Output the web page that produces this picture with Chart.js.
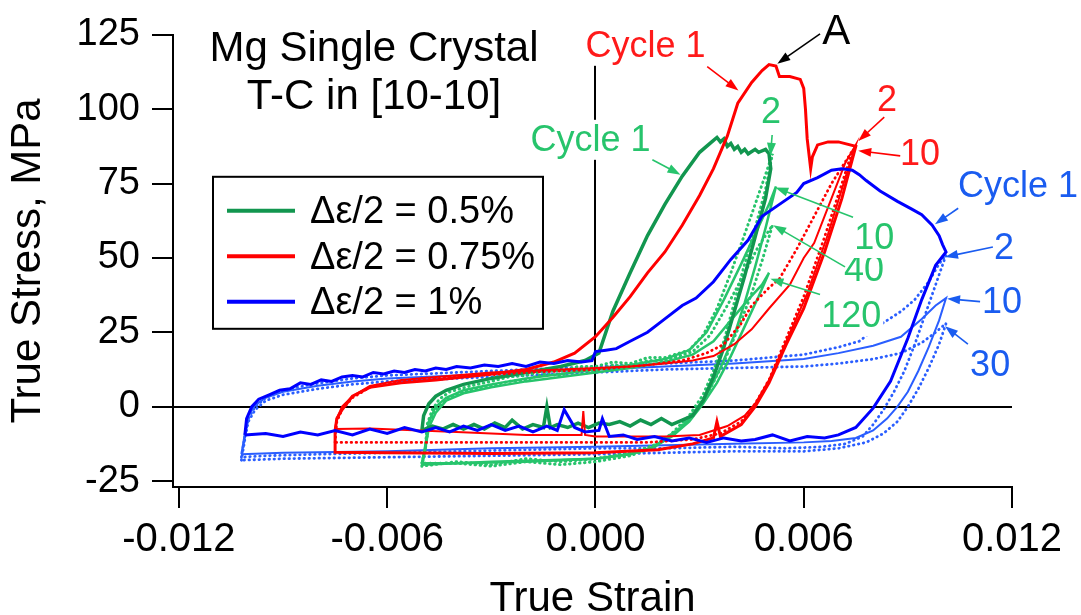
<!DOCTYPE html>
<html>
<head>
<meta charset="utf-8">
<script src="https://cdn.jsdelivr.net/npm/chart.js@4.4.1/dist/chart.umd.min.js"></script>
<style>
  html, body { margin: 0; padding: 0; background: #fff; }
  canvas { display: block; }
</style>
</head>
<body>
<canvas id="loops" width="1081" height="615"></canvas>
<script>
// axis ticks
const strainTicks = [-0.012, -0.006, 0, 0.006, 0.012];
const stressTicks = [-25, 0, 25, 50, 75, 100, 125];

// hysteresis loops, [true strain, true stress (MPa)]
// strain amplitude 0.75 %
const red1 = [
  [-0.0075, -8], [-0.00745, -4], [-0.0073, -1], [-0.007, 3.5], [-0.0065, 6.5], [-0.0056, 8], [-0.0046, 9],
  [-0.0038, 10], [-0.003, 11], [-0.002, 12.5], [-0.0012, 15], [-0.0006, 18], [0, 23.5], [0.0005, 30],
  [0.001, 37], [0.0015, 45], [0.002, 52], [0.0025, 61], [0.003, 71], [0.0034, 80], [0.0038, 91],
  [0.0041, 102], [0.0045, 109], [0.0048, 113], [0.005, 115], [0.0052, 114.5], [0.0053, 111], [0.0056, 111],
  [0.0059, 110], [0.006, 107], [0.00605, 100], [0.0061, 90], [0.0062, 80], [0.00625, 84], [0.0064, 88],
  [0.0067, 89], [0.007, 89], [0.0075, 87.5],
  [0.0071, 70], [0.0066, 52], [0.006, 33], [0.0055, 21], [0.005, 8], [0.0046, 0], [0.0042, -6],
  [0.0036, -10], [0.0035, -5], [0.0034, -10.5], [0.0028, -12.5], [0.0018, -14.5], [0, -15.5],
  [-0.003, -15.7], [-0.006, -15.5], [-0.0075, -15.3], [-0.0075, -8]
];
const red2 = [
  [-0.0075, -7.5], [-0.00745, -4], [-0.0073, 0], [-0.007, 3.5], [-0.0065, 7], [-0.0056, 9], [-0.0046, 10],
  [-0.003, 11.5], [-0.001, 12.5], [0.001, 13.5], [0.002, 14.5], [0.0028, 15.5], [0.0034, 17], [0.004, 21],
  [0.0045, 26], [0.005, 33], [0.0056, 41], [0.006, 50], [0.0063, 55], [0.0068, 70], [0.0072, 82], [0.0075, 88],
  [0.0072, 77], [0.0067, 58], [0.0061, 38], [0.0055, 22], [0.005, 9], [0.0046, 1], [0.0043, -3],
  [0.0038, -6.5], [0.003, -9.5], [0.002, -10], [0, -10], [-0.0003, -9.5], [-0.00035, -1.5], [-0.0004, -9.5],
  [-0.002, -9.5], [-0.004, -8.5], [-0.0065, -7.3], [-0.0075, -7.5]
];
const red10 = [
  [-0.0075, -12], [-0.00745, -5], [-0.0073, -1], [-0.007, 3], [-0.0065, 6.5], [-0.0056, 8.5], [-0.004, 10],
  [-0.002, 11.5], [0, 12.5], [0.0015, 14], [0.0025, 15.5], [0.0032, 18], [0.0037, 21], [0.0042, 28],
  [0.0045, 34], [0.005, 40], [0.0053, 43], [0.0058, 53], [0.0063, 64], [0.0068, 75], [0.0074, 86],
  [0.0071, 75], [0.0066, 57], [0.006, 37], [0.0055, 23], [0.005, 9], [0.0046, 1], [0.0042, -5],
  [0.0036, -9], [0.0028, -11], [0.0015, -12], [0, -12], [-0.004, -12], [-0.0075, -12]
];

// strain amplitude 0.5 %
const green1 = [
  [-0.005, -8], [-0.00495, -3], [-0.0048, 1], [-0.0046, 3.5], [-0.0043, 5.5], [-0.0038, 7.5], [-0.003, 9.5],
  [-0.002, 11.5], [-0.001, 13.5], [-0.0003, 15.5], [0.0001, 18], [0.0005, 32], [0.001, 45], [0.0015, 57.5],
  [0.002, 68], [0.0025, 77.5], [0.003, 85.5], [0.0033, 88.5], [0.0035, 90.5], [0.0036, 89], [0.0037, 90],
  [0.0038, 87.5], [0.0039, 88.5], [0.004, 86.5], [0.0041, 87.5], [0.0042, 85.5], [0.0043, 86.5], [0.0044, 85],
  [0.0046, 86.5], [0.0047, 85.5], [0.0049, 86.5], [0.005, 85],
  [0.00505, 80], [0.0049, 70], [0.0046, 57], [0.0043, 44], [0.004, 32], [0.0037, 20], [0.0034, 10],
  [0.0031, 2], [0.0028, -3], [0.0025, -4.5], [0.0022, -6], [0.0019, -4], [0.0016, -6], [0.0013, -4.5],
  [0.001, -6.5], [0.0007, -5], [0.0004, -6], [0.0001, -5.5], [-0.0002, -7], [-0.0005, -5.5], [-0.0008, -7],
  [-0.0011, -6], [-0.0013, -7], [-0.0014, 0], [-0.0015, -7], [-0.0018, -6], [-0.0021, -7.5], [-0.0024, -4.5],
  [-0.0026, -7], [-0.0029, -5.5], [-0.0032, -7.5], [-0.0035, -6], [-0.0038, -7.5], [-0.0041, -6],
  [-0.0044, -7.5], [-0.0047, -6.5], [-0.005, -8]
];
const green2 = [
  [-0.005, -19], [-0.0049, -14], [-0.00485, -6], [-0.0047, -1], [-0.0045, 2.5], [-0.0042, 5], [-0.0036, 7],
  [-0.003, 8.5], [-0.0025, 10], [-0.002, 10.5], [-0.0015, 12], [-0.001, 12], [-0.0005, 13.5], [0, 13.5],
  [0.0005, 15], [0.001, 14.5], [0.0015, 16.5], [0.002, 16.5], [0.0027, 19],
  [0.0031, 24], [0.0035, 33], [0.0039, 45], [0.0043, 58], [0.0046, 68], [0.0049, 78], [0.0051, 85],
  [0.0049, 73], [0.0046, 60], [0.0043, 48], [0.004, 35], [0.0037, 22], [0.0034, 12], [0.0031, 4],
  [0.0027, -3], [0.0022, -9], [0.0016, -14], [0.001, -16.5], [0, -18.5], [-0.001, -19.5], [-0.002, -18.5],
  [-0.003, -20], [-0.004, -19], [-0.005, -19]
];
const green10 = [
  [-0.005, -19], [-0.0049, -13], [-0.0048, -5], [-0.0046, 0], [-0.0043, 3], [-0.0038, 5.5], [-0.003, 7.5],
  [-0.002, 9.5], [-0.001, 11], [0, 12.5], [0.001, 14], [0.002, 16], [0.0027, 19], [0.0032, 25],
  [0.0037, 36], [0.0042, 48], [0.0046, 58], [0.005, 68], [0.0052, 74],
  [0.0049, 60], [0.0046, 47], [0.0043, 35], [0.004, 24], [0.0036, 13], [0.0032, 4], [0.0028, -3],
  [0.0023, -9], [0.0017, -13.5], [0.001, -16], [0, -17.5], [-0.002, -18.5], [-0.004, -19], [-0.005, -19]
];
const green40 = [
  [-0.005, -20], [-0.0049, -14], [-0.0048, -6], [-0.0046, -1], [-0.0043, 2.5], [-0.0038, 5], [-0.003, 7],
  [-0.0025, 8.5], [-0.002, 9], [-0.0015, 11], [-0.001, 10.5], [-0.0005, 12.5], [0, 12], [0.0005, 14],
  [0.001, 13.5], [0.0015, 15.5], [0.002, 15.5], [0.0028, 18.5], [0.0033, 24],
  [0.0038, 34], [0.0043, 45], [0.0047, 54], [0.0051, 61],
  [0.0048, 49], [0.0045, 38], [0.0041, 26], [0.0037, 15], [0.0033, 6], [0.0029, -1], [0.0024, -7.5],
  [0.0018, -12.5], [0.001, -15.5], [0, -17.5], [-0.001, -18.5], [-0.002, -17.5], [-0.003, -19.5],
  [-0.004, -18.5], [-0.005, -20]
];
const green120 = [
  [-0.005, -20], [-0.0049, -14], [-0.0048, -7], [-0.0046, -2], [-0.0043, 2], [-0.0038, 4.5], [-0.003, 6.5],
  [-0.002, 8.5], [-0.001, 10], [0, 11.5], [0.001, 13], [0.002, 15], [0.0028, 17.5], [0.0034, 22],
  [0.0039, 29], [0.0044, 36], [0.0048, 41], [0.005, 45],
  [0.0047, 37], [0.0043, 27], [0.0039, 17], [0.0035, 8], [0.0031, 1], [0.0027, -5], [0.0022, -10],
  [0.0016, -14], [0.001, -16], [0, -17.5], [-0.003, -18.5], [-0.005, -19.5]
];

// strain amplitude 1 %
const blue1 = [
  [-0.0101, -9.5], [-0.01005, -4], [-0.0099, 0], [-0.0097, 2.5], [-0.0094, 4], [-0.0091, 5.5], [-0.0088, 6],
  [-0.0085, 8], [-0.0082, 7.5], [-0.0079, 9], [-0.0076, 8.5], [-0.0073, 10], [-0.007, 10.5], [-0.0067, 10],
  [-0.0064, 11.5], [-0.0061, 11], [-0.0058, 12], [-0.0055, 11.5], [-0.0052, 12.5], [-0.0049, 12],
  [-0.0046, 13], [-0.0043, 12.5], [-0.004, 13.5], [-0.0036, 13], [-0.0032, 14], [-0.0028, 13.5],
  [-0.0024, 14.5], [-0.002, 13.5], [-0.0016, 15], [-0.0012, 14.5], [-0.0008, 15.5], [-0.0004, 15],
  [-0.0001, 15.5], [0, 18.5], [0.0003, 19], [0.0006, 19.5], [0.001, 22], [0.0015, 25], [0.002, 29.5],
  [0.0025, 34], [0.0029, 36.5], [0.0034, 42], [0.0039, 49.5], [0.0044, 56], [0.0048, 64], [0.0053, 68],
  [0.0058, 72], [0.006, 75], [0.0064, 77], [0.0068, 79.5], [0.0071, 80], [0.0074, 79.5], [0.0076, 78],
  [0.0078, 76], [0.0082, 72.5], [0.0087, 69], [0.0091, 66.5], [0.0094, 64.5], [0.0097, 61], [0.0099, 57.5],
  [0.01, 54.5], [0.0101, 52],
  [0.0098, 47.5], [0.0094, 36], [0.009, 23], [0.0085, 8.5], [0.008, -0.5], [0.0075, -7], [0.007, -9.5],
  [0.0066, -10.5], [0.0061, -10], [0.0056, -11.5], [0.0051, -9.5], [0.0046, -11], [0.0042, -11.5],
  [0.0037, -10.5], [0.0032, -12], [0.0027, -10.5], [0.0022, -11.5], [0.0017, -10], [0.0012, -11],
  [0.0008, -9.5], [0.0004, -10], [0.0002, -4], [0.0001, -8], [-0.0003, -8.5], [-0.0006, -7], [-0.0009, -1],
  [-0.0011, -8], [-0.0014, -6.5], [-0.0018, -8.5], [-0.0022, -6.5], [-0.0026, -8], [-0.003, -6],
  [-0.0034, -8], [-0.0038, -6.5], [-0.0042, -8.5], [-0.0046, -7], [-0.005, -8.5], [-0.0055, -7],
  [-0.006, -9], [-0.0065, -7.5], [-0.007, -9.5], [-0.0075, -8], [-0.008, -9.5], [-0.0085, -8.5],
  [-0.009, -10], [-0.0095, -9], [-0.0101, -9.5]
];
const blue2 = [
  [-0.0102, -17], [-0.0101, -10], [-0.01, -4], [-0.0098, 0], [-0.0095, 3], [-0.009, 5.5], [-0.0082, 7.5],
  [-0.007, 9.5], [-0.006, 10.5], [-0.005, 11], [-0.004, 11.5], [-0.003, 12], [-0.002, 12.5], [-0.001, 13],
  [0, 13.5], [0.001, 14], [0.002, 14.5], [0.003, 15], [0.004, 15.5], [0.005, 16.5], [0.006, 17.5], [0.007, 20],
  [0.0076, 22], [0.0082, 27.5], [0.0088, 32], [0.0092, 36], [0.0096, 42], [0.0099, 48], [0.0101, 51],
  [0.0098, 41], [0.0095, 31], [0.0092, 21], [0.0089, 12], [0.0086, 5], [0.0083, -1], [0.008, -6],
  [0.0077, -10], [0.0072, -12.5], [0.0065, -13.5], [0.0055, -14], [0.004, -13.5], [0.002, -14], [0, -14],
  [-0.002, -14.5], [-0.004, -15], [-0.006, -15.5], [-0.008, -16], [-0.0095, -16.5], [-0.0102, -17]
];
const blue10 = [
  [-0.0102, -16], [-0.0101, -9], [-0.01, -3], [-0.0098, 0.5], [-0.0095, 3], [-0.009, 5], [-0.008, 7],
  [-0.007, 8.5], [-0.006, 9.5], [-0.004, 10.5], [-0.002, 11.5], [0, 12.5], [0.002, 13.5], [0.004, 14.5],
  [0.006, 16], [0.007, 18], [0.008, 20.5], [0.0088, 23.5], [0.0094, 29.5], [0.0098, 34], [0.0101, 36.5],
  [0.0099, 29], [0.0096, 20], [0.0093, 12], [0.009, 5], [0.0087, 0], [0.0084, -4], [0.008, -8],
  [0.0075, -10.5], [0.0068, -11.5], [0.006, -12], [0.004, -12.5], [0.002, -13], [0, -13.5], [-0.003, -14],
  [-0.006, -15], [-0.009, -15.5], [-0.0102, -16]
];
const blue30 = [
  [-0.0102, -18], [-0.0101, -11], [-0.01, -5], [-0.0098, -1], [-0.0095, 2], [-0.009, 4], [-0.008, 6],
  [-0.007, 7.5], [-0.006, 8.5], [-0.004, 9.5], [-0.002, 10.5], [0, 11.5], [0.002, 12.5], [0.004, 13],
  [0.006, 13.5], [0.007, 14.5], [0.008, 16], [0.0088, 18], [0.0094, 21.5], [0.0098, 25], [0.0101, 28],
  [0.0099, 21], [0.0096, 13], [0.0093, 6], [0.009, 0], [0.0087, -5], [0.0083, -9], [0.0078, -12],
  [0.007, -14], [0.006, -15], [0.004, -15], [0.002, -15.5], [0, -16], [-0.003, -16.5], [-0.006, -17],
  [-0.009, -17.5], [-0.0102, -18]
];

const legendNames = ['Δε/2 = 0.5%', 'Δε/2 = 0.75%', 'Δε/2 = 1%'];
const titleLines = ['Mg Single Crystal', 'T-C in [10-10]'];

// cycle labels: text, strain, stress
const greenNotes = [['40', 0.00774, 46], ['Cycle 1', -0.00014, 89.7], ['2', 0.00506, 99], ['10', 0.00803, 56.7], ['120', 0.00737, 30.3]];
const redNotes = [['Cycle 1', 0.00144, 121.3], ['2', 0.0084, 103], ['10', 0.00935, 85]];
const blueNotes = [['Cycle 1', 0.01217, 74.3], ['2', 0.01177, 53.3], ['10', 0.01171, 35.3], ['30', 0.01137, 14]];
const blackNotes = [['A', 0.00694, 126]];

// pointer arrows: from strain, stress -> to strain, stress
const greenArrows = [[0.00164, 83, 0.00245, 78], [0.00509, 91.3, 0.00504, 84.3], [0.00742, 63.7, 0.00518, 73.7],
  [0.00719, 47, 0.00512, 61], [0.00647, 37.7, 0.00504, 43]];
const redArrows = [[0.00322, 114.3, 0.00412, 106.3], [0.00832, 97.3, 0.00757, 89.3], [0.00878, 84.3, 0.00757, 86]];
const blueArrows = [[0.01045, 66.7, 0.00978, 61.3], [0.01145, 53.7, 0.01007, 50.3], [0.01108, 35.3, 0.01013, 36.3],
  [0.01073, 21, 0.01007, 27]];
const blackArrows = [[0.00647, 125.3, 0.00524, 115.3]];

const FONT = '"Liberation Sans", Arial, Helvetica, sans-serif';
const GREEN_DARK = '#12964f';
const GREEN = '#27c46c';
const RED = '#ff0000';
const BLUE_DARK = '#0000ff';
const BLUE = '#2a5eff';

function loop(label, pts, color, width, dotted) {
  return {
    label: label,
    data: pts.map(p => ({ x: p[0], y: p[1] })),
    showLine: true,
    borderColor: color,
    backgroundColor: color,
    borderWidth: width,
    borderDash: dotted ? [0.5, 4.5] : [],
    borderCapStyle: dotted ? 'round' : 'butt',
    pointRadius: 0,
    fill: false
  };
}

// first dataset ends up on top
const datasets = [
  loop('1% cycle 1', blue1, BLUE_DARK, 3, false),
  loop('0.75% cycle 1', red1, RED, 3, false),
  loop('0.75% cycle 2', red2, RED, 2, false),
  loop('0.75% cycle 10', red10, RED, 2.8, true),
  loop('0.5% cycle 1', green1, GREEN_DARK, 3.5, false),
  loop('0.5% cycle 2', green2, GREEN, 3, true),
  loop('0.5% cycle 10', green10, GREEN, 2.5, false),
  loop('0.5% cycle 40', green40, GREEN, 3, true),
  loop('0.5% cycle 120', green120, GREEN, 2.5, false),
  loop('1% cycle 2', blue2, BLUE, 2.8, true),
  loop('1% cycle 10', blue10, BLUE, 2, false),
  loop('1% cycle 30', blue30, BLUE, 2.8, true)
];

function drawArrow(ctx, x1, y1, x2, y2, color) {
  const ang = Math.atan2(y2 - y1, x2 - x1);
  const len = 13, half = 4.5;
  ctx.save();
  ctx.strokeStyle = color;
  ctx.fillStyle = color;
  ctx.lineWidth = 1.6;
  ctx.beginPath();
  ctx.moveTo(x1, y1);
  ctx.lineTo(x2 - Math.cos(ang) * len * 0.8, y2 - Math.sin(ang) * len * 0.8);
  ctx.stroke();
  ctx.beginPath();
  ctx.moveTo(x2, y2);
  ctx.lineTo(x2 - Math.cos(ang) * len - Math.sin(ang) * half, y2 - Math.sin(ang) * len + Math.cos(ang) * half);
  ctx.lineTo(x2 - Math.cos(ang) * len + Math.sin(ang) * half, y2 - Math.sin(ang) * len - Math.cos(ang) * half);
  ctx.closePath();
  ctx.fill();
  ctx.restore();
}

// title, legend box and cycle annotations
const notesPlugin = {
  id: 'notes',
  afterDraw(chart) {
    const { ctx, chartArea: area, scales } = chart;
    const sx = v => scales.x.getPixelForValue(v);
    const sy = v => scales.y.getPixelForValue(v);
    ctx.save();
    ctx.textBaseline = 'middle';

    // title
    ctx.fillStyle = '#000';
    ctx.textAlign = 'center';
    ctx.font = '42px ' + FONT;
    titleLines.forEach((t, i) => ctx.fillText(t, area.left + 201, area.top + 15 + i * 48));

    // legend
    const lx = area.left + 40, ly = area.top + 142;
    ctx.fillStyle = '#fff';
    ctx.fillRect(lx, ly, 330, 152);
    ctx.strokeStyle = '#000';
    ctx.lineWidth = 2;
    ctx.strokeRect(lx, ly, 330, 152);
    const legendColors = [GREEN_DARK, RED, BLUE_DARK];
    ctx.font = '38px ' + FONT;
    ctx.textAlign = 'left';
    legendNames.forEach((name, i) => {
      const yy = ly + 34 + i * 45.5;
      ctx.strokeStyle = legendColors[i];
      ctx.lineWidth = 4;
      ctx.beginPath();
      ctx.moveTo(lx + 14, yy);
      ctx.lineTo(lx + 82, yy);
      ctx.stroke();
      ctx.fillStyle = '#000';
      ctx.fillText(name, lx + 97, yy + 2);
    });

    // cycle labels on white patches
    ctx.font = '36px ' + FONT;
    ctx.textAlign = 'center';
    const labelSet = (notes, color) => notes.forEach(n => {
      const px = sx(n[1]), py = sy(n[2]);
      const w = ctx.measureText(n[0]).width;
      ctx.fillStyle = '#fff';
      ctx.fillRect(px - w / 2 - 2, py - 20, w + 4, 40);
      ctx.fillStyle = color;
      ctx.fillText(n[0], px, py + 1);
    });
    labelSet(greenNotes, GREEN);
    labelSet(redNotes, '#ff1a1a');
    labelSet(blueNotes, '#1a5cf0');
    ctx.font = '42px ' + FONT;
    labelSet(blackNotes, '#000');

    const arrowSet = (list, color) => list.forEach(a => drawArrow(ctx, sx(a[0]), sy(a[1]), sx(a[2]), sy(a[3]), color));
    arrowSet(greenArrows, GREEN);
    arrowSet(redArrows, RED);
    arrowSet(blueArrows, '#1a5cf0');
    arrowSet(blackArrows, '#000');
    ctx.restore();
  }
};

const zeroOnly = c => (c.tick && c.tick.value === 0 ? '#000' : 'rgba(0,0,0,0)');

new Chart(document.getElementById('loops'), {
  type: 'scatter',
  data: { datasets: datasets },
  options: {
    responsive: false,
    animation: false,
    layout: { padding: { top: 31, right: 69, left: 0, bottom: 0 } },
    plugins: { legend: { display: false }, tooltip: { enabled: false } },
    elements: { line: { tension: 0 } },
    scales: {
      x: {
        type: 'linear',
        min: -0.01217,
        max: 0.012,
        afterBuildTicks: s => { s.ticks = strainTicks.map(v => ({ value: v })); },
        afterFit: s => { s.height = 128; },
        ticks: {
          color: '#000',
          font: { family: FONT, size: 40 },
          padding: 8,
          maxRotation: 0,
          autoSkip: false,
          callback: v => v.toFixed(3)
        },
        grid: { color: zeroOnly, lineWidth: 2, tickLength: 21, tickColor: '#000', tickWidth: 2 },
        border: { display: true, color: '#000', width: 2 },
        title: {
          display: true,
          text: 'True Strain',
          color: '#000',
          font: { family: FONT, size: 42, lineHeight: 1 },
          padding: { top: 0, bottom: -5 }
        }
      },
      y: {
        type: 'linear',
        min: -27,
        max: 125,
        afterBuildTicks: s => { s.ticks = stressTicks.map(v => ({ value: v })); },
        afterFit: s => { s.width = 173; },
        ticks: {
          color: '#000',
          font: { family: FONT, size: 38 },
          padding: 12,
          autoSkip: false
        },
        grid: { color: zeroOnly, lineWidth: 2, tickLength: 21, tickColor: '#000', tickWidth: 2 },
        border: { display: true, color: '#000', width: 2 },
        title: {
          display: true,
          text: 'True Stress, MPa',
          color: '#000',
          font: { family: FONT, size: 42, lineHeight: 1 },
          padding: { top: 7, bottom: 0 }
        }
      }
    }
  },
  plugins: [notesPlugin]
});
</script>
</body>
</html>
